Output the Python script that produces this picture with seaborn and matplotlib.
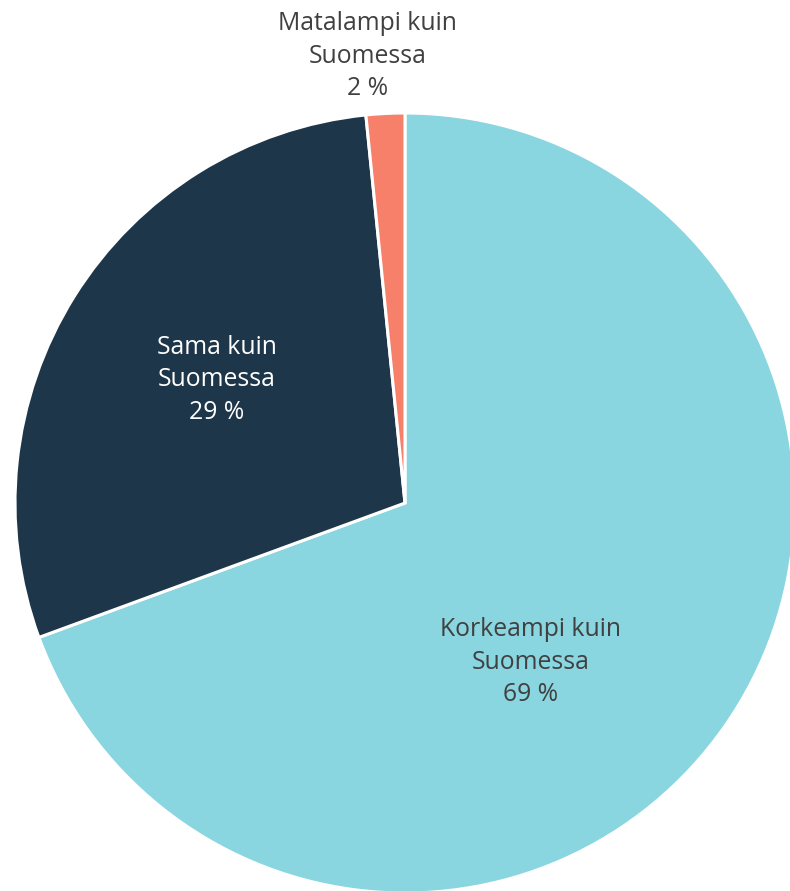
import numpy as np
import seaborn as sns
import matplotlib
matplotlib.use('Agg')
import matplotlib.pyplot as plt

labels = ['Korkeampi kuin\nSuomessa', 'Sama kuin\nSuomessa', 'Matalampi kuin\nSuomessa']
values = [69.4, 29.0, 1.6]
colors = ['#89D5E0', '#1E364A', '#F7806A']
text_colors = ['#404040', 'white', '#404040']
# label spot as (angle in degrees, distance from centre)
label_pos = [(-51.8, 0.52), (146.8, 0.577), (94.8, 1.15)]

sns.set_theme(style='white')
plt.rcParams['font.family'] = ['Open Sans', 'DejaVu Sans']

fig = plt.figure(figsize=(7.9, 8.91), dpi=100)
ax = fig.add_axes([0, 0, 1, 1])
wedges, _ = ax.pie(values, colors=colors, startangle=90, counterclock=False,
                   radius=1, wedgeprops=dict(edgecolor='white', linewidth=2.2))

for lab, v, tc, (ang, d) in zip(labels, values, text_colors, label_pos):
    a = np.deg2rad(ang)
    ax.text(d * np.cos(a), d * np.sin(a), f'{lab}\n{round(v)} %', ha='center', va='center',
            color=tc, fontsize=17.8, linespacing=1.4)

ax.set_xlim(-405 / 390, 385 / 390)
ax.set_ylim(-388 / 390, 503 / 390)
ax.set_aspect('equal')
ax.axis('off')
plt.savefig('out.png', dpi=100)
